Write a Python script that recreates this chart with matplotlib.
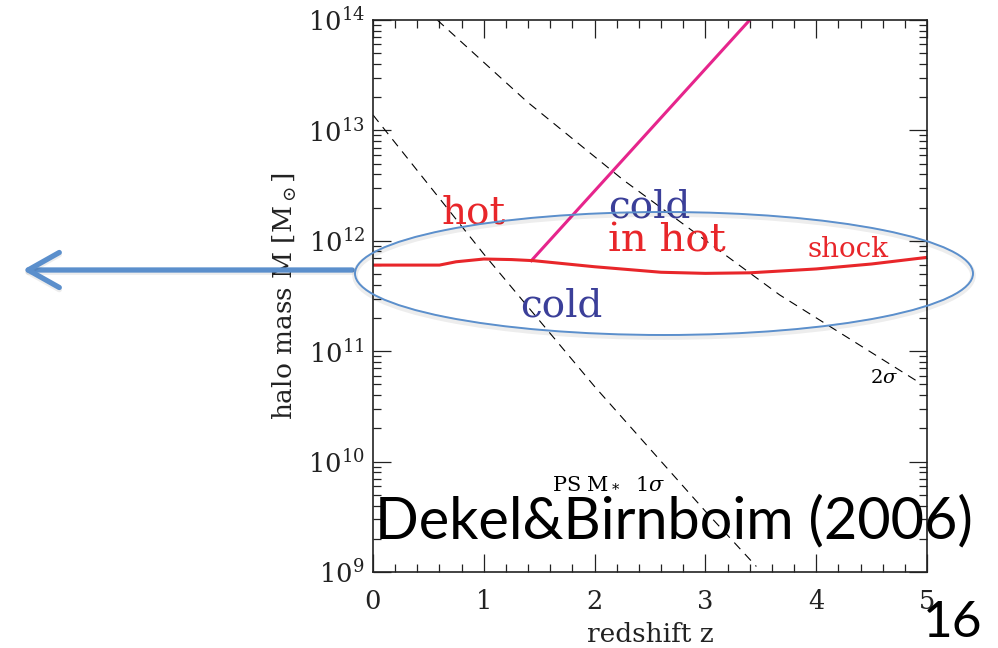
import matplotlib
matplotlib.use('Agg')
import matplotlib.pyplot as plt
import matplotlib.patheffects as pe
from matplotlib.patches import Ellipse, FancyArrowPatch
import numpy as np

# --- data (z, log10 M) ---
sig1_z = [0.0, 1.0, 2.0, 3.0, 3.46]
sig1_logm = [13.14, 11.88, 10.68, 9.55, 9.05]

sig2_z = [0.58, 1.39, 2.26, 3.67, 4.94]
sig2_logm = [14.0, 13.26, 12.55, 11.51, 10.71]

shock_z = [0.0, 0.6, 0.75, 1.0, 1.25, 1.45, 2.0, 2.6, 3.0, 3.4, 4.0, 4.5, 5.0]
shock_logm = [11.78, 11.78, 11.81, 11.835, 11.83, 11.82, 11.765, 11.715,
              11.705, 11.71, 11.745, 11.79, 11.85]

pink_z = [1.42, 3.40]
pink_logm = [11.81, 14.0]

ytick_pows = [9, 10, 11, 12, 13, 14]
xticks = [0, 1, 2, 3, 4, 5]

RED = '#e8262a'
PINK = '#e6258c'
NAVY = '#3b3f99'
LBLUE = '#5b8fcc'

plt.rcParams['font.family'] = ['DejaVu Serif']
plt.rcParams['mathtext.fontset'] = 'dejavuserif'

fig = plt.figure(figsize=(9.98, 6.48), dpi=100)
ax = fig.add_axes([373/998, 1-572/648, 554/998, 552/648])

ax.plot(sig1_z, 10**np.array(sig1_logm), color='k', lw=0.8, ls=(0, (8, 6)))
ax.plot(sig2_z, 10**np.array(sig2_logm), color='k', lw=0.8, ls=(0, (8, 6)))
ax.plot(pink_z, 10**np.array(pink_logm), color=PINK, lw=2.2, solid_capstyle='butt')
ax.plot(shock_z, 10**np.array(shock_logm), color=RED, lw=2.2)

ax.set_yscale('log')
ax.set_xlim(0, 5)
ax.set_ylim(1e9, 1e14)
ax.set_xticks(xticks)
ax.set_xticklabels([str(v) for v in xticks])
ax.set_xticks(np.arange(0, 5.01, 0.2), minor=True)
ax.set_yticks([10.0**p for p in ytick_pows])
ax.set_yticklabels([r'$10^{%d}$' % p for p in ytick_pows])
ax.tick_params(which='both', direction='in', top=True, right=True, width=0.9, color='#222222')
ax.tick_params(which='major', length=13, labelsize=18.5, labelcolor='#222222')
ax.tick_params(which='minor', length=6)
ax.tick_params(axis='x', pad=12)
ax.tick_params(axis='y', pad=6)
for s in ax.spines.values():
    s.set_linewidth(1.2)
    s.set_color('#222222')

ax.set_xlabel('redshift z', fontsize=19, labelpad=6, color='#222222')
ax.set_ylabel(r'halo mass M [M$_\odot$]', fontsize=19, labelpad=6, color='#222222')

# region labels
ax.text(0.623, 10**12.161, 'hot', color=RED, fontsize=28)
ax.text(2.121, 10**12.207, 'cold', color=NAVY, fontsize=28)
ax.text(2.121, 10**11.899, 'in hot', color=RED, fontsize=29)
ax.text(1.327, 10**11.31, 'cold', color=NAVY, fontsize=28)
ax.text(3.917, 10**11.853, 'shock', color=RED, fontsize=20)
ax.text(4.486, 10**10.712, r'2$\sigma$', color='k', fontsize=14)
ax.text(1.616, 10**9.76, r'PS M$_*$  1$\sigma$', color='k', fontsize=15)

# ellipse + arrow overlay
shadow = [pe.SimpleLineShadow(offset=(0, -1.5), alpha=0.07, linewidth=4), pe.Normal()]
ell = Ellipse((664/998, 1-273.5/648), 618/998, 123/648, transform=fig.transFigure,
              fill=False, edgecolor=LBLUE, lw=1.4, path_effects=shadow)
fig.patches.append(ell)
fig.add_artist(FancyArrowPatch(
    (355/998, 1-270/648), (20/998, 1-270/648), transform=fig.transFigure,
    arrowstyle='->, head_length=1.6, head_width=0.9', mutation_scale=14,
    color=LBLUE, lw=3.8, path_effects=shadow))

fig.text(375/998, 1-538/648, 'Dekel&Birnboim (2006)', family='Lato', fontsize=41.5, color='k')
fig.text(982/998, 1-637/648, '16', family='Lato', fontsize=37, color='k', ha='right')

fig.savefig('out.png', dpi=100)
